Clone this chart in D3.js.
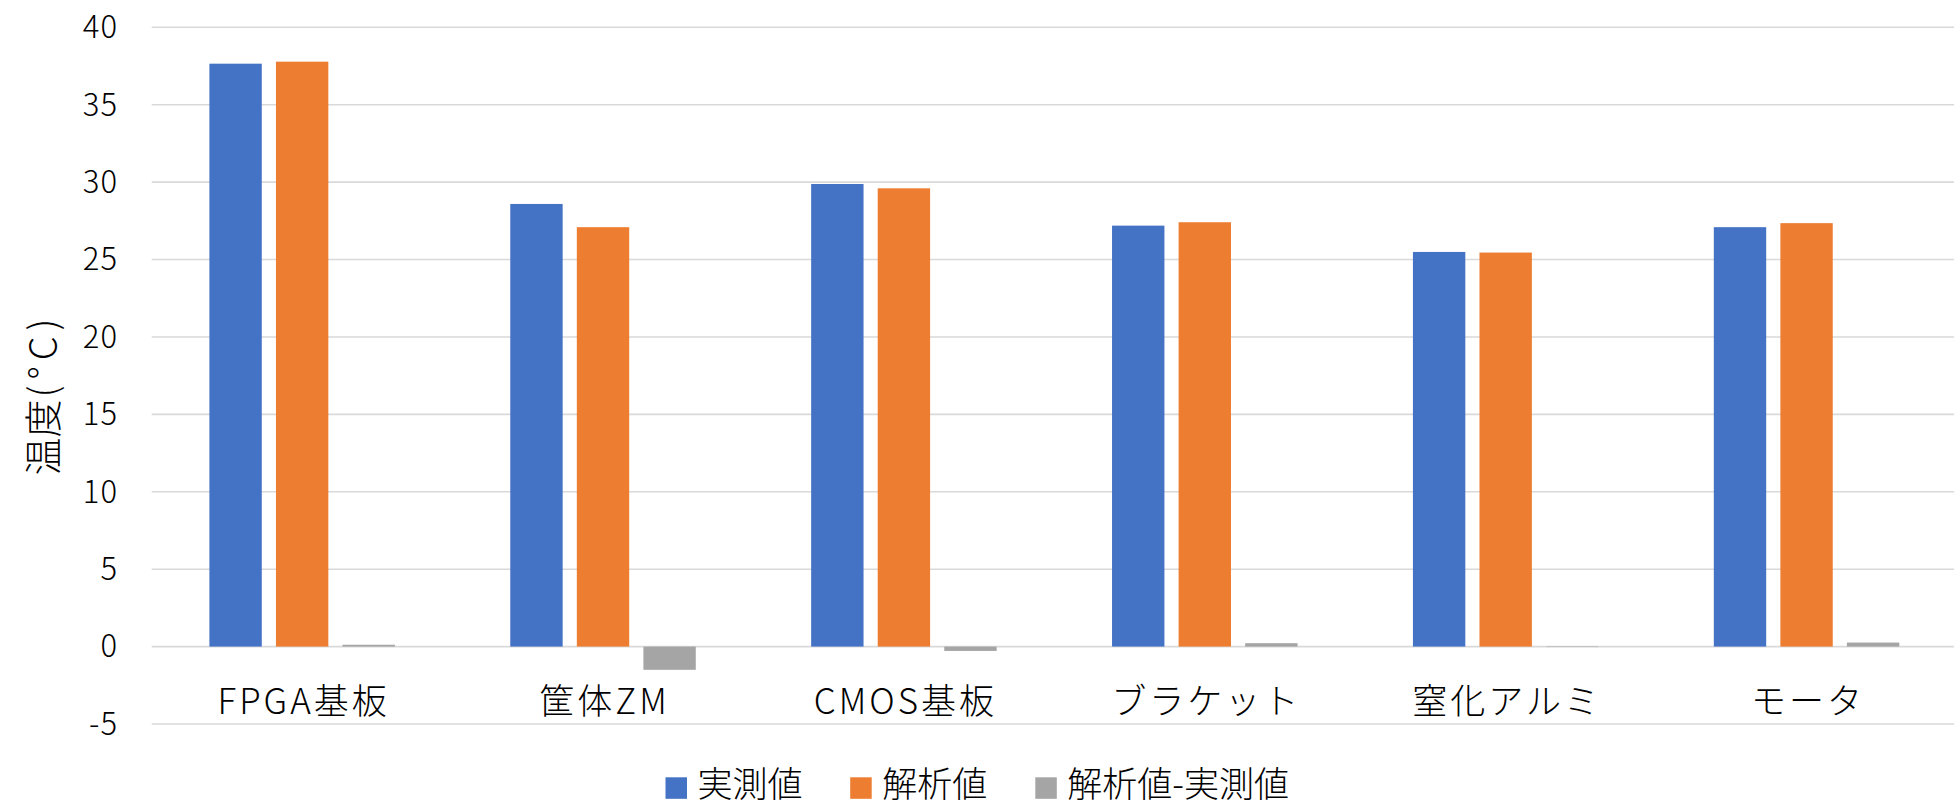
<!DOCTYPE html>
<html lang="ja">
<head>
<meta charset="utf-8">
<script src="https://cdn.jsdelivr.net/npm/d3@7"></script>
<style>
  html, body { margin: 0; padding: 0; background: #fff; }
  svg { display: block; }
  text { font-family: "Noto Sans CJK JP", "Noto Sans", sans-serif; font-weight: 300; fill: #000; }
</style>
</head>
<body>
<svg id="chart" width="1954" height="807"></svg>
<script>
// Temperature per component: measured, simulated, and their difference (°C)
const categories = ["FPGA基板", "筐体ZM", "CMOS基板", "ブラケット", "窒化アルミ", "モータ"];
const measured   = [37.65, 28.59, 29.88, 27.19, 25.49, 27.09];
const analysis   = [37.78, 27.09, 29.60, 27.41, 25.45, 27.35];
const difference = [0.12, -1.50, -0.28, 0.22, -0.03, 0.26];
const seriesNames = ["実測値", "解析値", "解析値-実測値"];
const seriesColors = ["#4472C4", "#ED7D31", "#A5A5A5"];
const yTicks = [-5, 0, 5, 10, 15, 20, 25, 30, 35, 40];
const yTitleParts = ["温度", "(°C)"];

const seriesValues = [measured, analysis, difference];

const svg = d3.select("#chart");
const W = 1954, H = 807;
svg.append("rect").attr("width", W).attr("height", H).attr("fill", "#fff");

const plot = { left: 151.7, right: 1957, top: 27.3, bottom: 724 };

const y = d3.scaleLinear().domain([-5, 40]).range([plot.bottom, plot.top]);

const x = d3.scaleBand()
  .domain(categories)
  .range([plot.left, plot.right])
  .paddingInner(0.3835)
  .paddingOuter(0.3835 / 2);

const xs = d3.scaleBand()
  .domain(seriesNames)
  .range([0, x.bandwidth()])
  .paddingInner(0.213)
  .paddingOuter(0);

// Horizontal gridlines
svg.append("g")
  .selectAll("line")
  .data(yTicks)
  .join("line")
  .attr("x1", plot.left)
  .attr("x2", plot.right)
  .attr("y1", d => y(d))
  .attr("y2", d => y(d))
  .attr("stroke", "#d9d9d9")
  .attr("stroke-width", 1.6);

// Y tick labels
svg.append("g")
  .selectAll("text")
  .data(yTicks)
  .join("text")
  .attr("x", 118)
  .attr("y", d => y(d))
  .attr("dy", "0.35em")
  .attr("text-anchor", "end")
  .attr("font-size", 31)
  .attr("letter-spacing", 1)
  .text(d => d);

// Bars
const rows = categories.map((c, i) => ({ cat: c, vals: seriesValues.map(s => s[i]) }));
const groups = svg.append("g")
  .selectAll("g")
  .data(rows)
  .join("g")
  .attr("transform", d => `translate(${x(d.cat)},0)`);

groups.selectAll("rect")
  .data(d => d.vals.map((v, k) => ({ v, k })))
  .join("rect")
  .attr("x", d => xs(seriesNames[d.k]))
  .attr("width", xs.bandwidth())
  .attr("y", d => y(Math.max(0, d.v)))
  .attr("height", d => Math.abs(y(d.v) - y(0)))
  .attr("fill", d => seriesColors[d.k]);

// Category labels
svg.append("g")
  .selectAll("text")
  .data(categories)
  .join("text")
  .attr("x", d => x(d) + x.bandwidth() / 2 + 1.5)
  .attr("y", 714)
  .attr("text-anchor", "middle")
  .attr("font-size", 35)
  .attr("letter-spacing", 3)
  .text(d => d);

// Y axis title: the unit part is set a little wider
const title = svg.append("text")
  .attr("transform", "translate(44,394) rotate(-90)")
  .attr("dy", "0.35em")
  .attr("text-anchor", "middle")
  .attr("font-size", 38);
title.append("tspan").text(yTitleParts[0]);
title.append("tspan").attr("dx", 2).attr("letter-spacing", 6).text(yTitleParts[1]);

// Legend
const legendX = [665.5, 850.2, 1035.3];
const legend = svg.append("g")
  .selectAll("g")
  .data(seriesNames)
  .join("g")
  .attr("transform", (d, i) => `translate(${legendX[i]},788)`);
legend.append("rect")
  .attr("x", 0).attr("y", -10.7)
  .attr("width", 21.5).attr("height", 21.5)
  .attr("fill", (d, i) => seriesColors[i]);
legend.append("text")
  .attr("x", 32)
  .attr("y", 0)
  .attr("dy", "0.26em")
  .attr("font-size", 35)
  .text(d => d);
</script>
</body>
</html>
